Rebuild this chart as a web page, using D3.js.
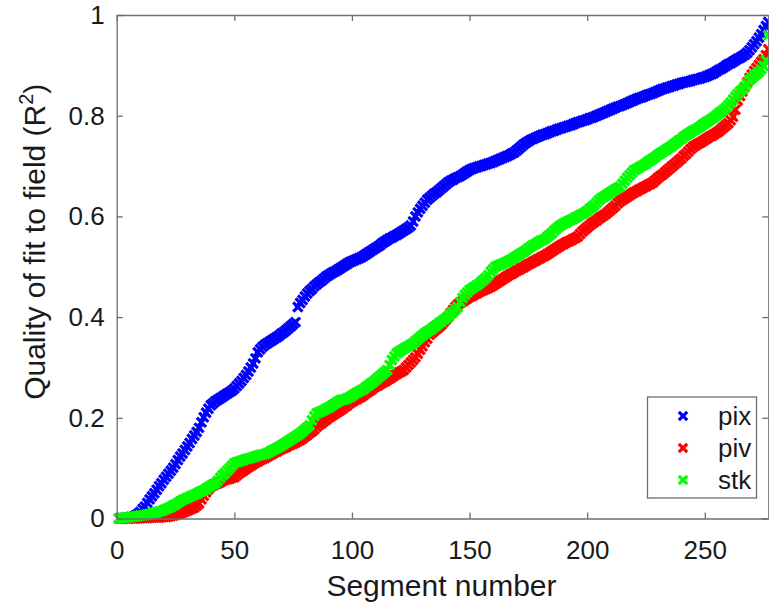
<!DOCTYPE html>
<html><head><meta charset="utf-8">
<script src="https://cdn.jsdelivr.net/npm/d3@7"></script>
<style>body{margin:0;background:#fff;} svg{display:block;} text{font-family:"Liberation Sans",Arial,sans-serif;fill:#1a1a1a;}</style>
</head><body><svg id="c" width="769" height="607"></svg>
<script>
const xTicks = [0, 50, 100, 150, 200, 250];
const yTicks = [0, 0.2, 0.4, 0.6, 0.8, 1];
const seriesNames = ["pix", "piv", "stk"];
const seriesColors = ["#0000ff", "#ff0000", "#00ff00"];

const pix = [
0.000,0.001,0.001,0.002,0.002,0.003,0.004,0.006,0.009,0.013,
0.019,0.024,0.031,0.038,0.044,0.050,0.057,0.064,0.070,0.077,
0.083,0.089,0.095,0.101,0.108,0.116,0.123,0.129,0.136,0.143,
0.150,0.158,0.165,0.172,0.180,0.191,0.201,0.210,0.218,0.225,
0.229,0.233,0.236,0.239,0.242,0.245,0.248,0.251,0.254,0.258,
0.263,0.268,0.273,0.279,0.285,0.292,0.300,0.308,0.318,0.330,
0.336,0.341,0.345,0.348,0.351,0.354,0.357,0.360,0.363,0.367,
0.370,0.374,0.378,0.382,0.386,0.390,0.420,0.428,0.434,0.441,
0.447,0.452,0.456,0.461,0.465,0.469,0.472,0.476,0.480,0.483,
0.486,0.489,0.491,0.494,0.497,0.500,0.503,0.506,0.509,0.511,
0.513,0.515,0.517,0.519,0.522,0.525,0.528,0.531,0.534,0.537,
0.540,0.543,0.547,0.550,0.553,0.556,0.558,0.561,0.563,0.566,
0.569,0.572,0.575,0.578,0.582,0.590,0.600,0.608,0.615,0.621,
0.627,0.633,0.637,0.641,0.645,0.648,0.652,0.656,0.660,0.664,
0.668,0.671,0.673,0.676,0.678,0.680,0.683,0.686,0.689,0.692,
0.694,0.696,0.697,0.699,0.700,0.702,0.703,0.705,0.706,0.708,
0.710,0.712,0.714,0.716,0.718,0.720,0.722,0.725,0.727,0.731,
0.735,0.739,0.743,0.746,0.749,0.752,0.754,0.756,0.758,0.760,
0.762,0.763,0.765,0.767,0.769,0.770,0.772,0.774,0.775,0.777,
0.778,0.780,0.781,0.783,0.785,0.787,0.788,0.790,0.791,0.793,
0.795,0.796,0.798,0.800,0.802,0.804,0.806,0.808,0.810,0.812,
0.814,0.816,0.818,0.819,0.821,0.823,0.825,0.827,0.829,0.831,
0.833,0.835,0.836,0.838,0.840,0.842,0.843,0.845,0.847,0.849,
0.851,0.853,0.854,0.856,0.857,0.859,0.860,0.862,0.863,0.865,
0.866,0.867,0.868,0.869,0.871,0.872,0.873,0.874,0.876,0.877,
0.879,0.881,0.883,0.885,0.888,0.891,0.893,0.896,0.899,0.902,
0.904,0.907,0.910,0.913,0.915,0.918,0.921,0.925,0.930,0.936,
0.942,0.948,0.955,0.962,0.970,0.978,0.986];

const piv = [
0.000,0.000,0.000,0.000,0.000,0.000,0.000,0.000,0.001,0.001,
0.001,0.001,0.001,0.002,0.002,0.002,0.002,0.002,0.003,0.003,
0.003,0.004,0.005,0.006,0.007,0.009,0.010,0.012,0.014,0.016,
0.018,0.020,0.022,0.026,0.030,0.038,0.045,0.052,0.058,0.063,
0.066,0.068,0.070,0.072,0.075,0.077,0.078,0.079,0.081,0.082,
0.086,0.090,0.093,0.096,0.099,0.102,0.105,0.108,0.111,0.113,
0.116,0.118,0.120,0.123,0.126,0.128,0.131,0.133,0.136,0.138,
0.140,0.142,0.145,0.147,0.149,0.151,0.154,0.156,0.159,0.163,
0.166,0.170,0.173,0.177,0.182,0.186,0.189,0.193,0.196,0.200,
0.203,0.206,0.209,0.212,0.215,0.218,0.222,0.225,0.229,0.232,
0.235,0.237,0.240,0.242,0.245,0.249,0.252,0.255,0.259,0.262,
0.264,0.267,0.270,0.272,0.275,0.278,0.281,0.284,0.287,0.290,
0.292,0.295,0.300,0.305,0.310,0.315,0.320,0.327,0.335,0.342,
0.350,0.357,0.365,0.369,0.373,0.377,0.381,0.385,0.390,0.395,
0.401,0.408,0.414,0.420,0.425,0.428,0.431,0.434,0.437,0.440,
0.442,0.445,0.447,0.450,0.452,0.454,0.456,0.458,0.460,0.463,
0.466,0.469,0.472,0.475,0.478,0.481,0.484,0.486,0.489,0.492,
0.494,0.497,0.499,0.502,0.505,0.507,0.510,0.512,0.515,0.517,
0.520,0.522,0.525,0.528,0.531,0.534,0.537,0.540,0.543,0.545,
0.548,0.550,0.552,0.555,0.557,0.560,0.565,0.570,0.574,0.578,
0.582,0.586,0.589,0.592,0.596,0.599,0.602,0.605,0.609,0.613,
0.617,0.621,0.626,0.630,0.633,0.636,0.639,0.642,0.645,0.648,
0.650,0.653,0.655,0.658,0.660,0.663,0.665,0.668,0.672,0.676,
0.680,0.683,0.687,0.691,0.695,0.699,0.703,0.707,0.711,0.715,
0.720,0.724,0.729,0.734,0.738,0.741,0.744,0.746,0.749,0.752,
0.755,0.758,0.760,0.763,0.766,0.769,0.773,0.777,0.781,0.785,
0.791,0.798,0.812,0.830,0.839,0.848,0.857,0.866,0.875,0.882,
0.889,0.895,0.901,0.907,0.912,0.920,0.932];

const stk = [
0.000,0.001,0.001,0.002,0.002,0.003,0.004,0.004,0.005,0.006,
0.006,0.007,0.008,0.009,0.010,0.011,0.012,0.014,0.015,0.017,
0.019,0.021,0.023,0.026,0.028,0.031,0.034,0.037,0.039,0.041,
0.043,0.045,0.047,0.049,0.052,0.054,0.056,0.059,0.062,0.065,
0.068,0.070,0.075,0.081,0.086,0.090,0.095,0.100,0.105,0.110,
0.112,0.113,0.115,0.116,0.118,0.119,0.120,0.122,0.123,0.125,
0.126,0.127,0.128,0.130,0.132,0.135,0.137,0.140,0.142,0.145,
0.148,0.151,0.154,0.157,0.160,0.163,0.166,0.169,0.173,0.177,
0.181,0.185,0.195,0.203,0.209,0.211,0.213,0.215,0.218,0.220,
0.223,0.226,0.229,0.232,0.235,0.236,0.237,0.239,0.241,0.244,
0.247,0.250,0.252,0.255,0.257,0.261,0.264,0.268,0.271,0.275,
0.279,0.283,0.287,0.291,0.295,0.305,0.315,0.322,0.328,0.331,
0.334,0.337,0.340,0.342,0.345,0.348,0.352,0.356,0.360,0.364,
0.368,0.371,0.374,0.377,0.381,0.384,0.388,0.391,0.395,0.398,
0.402,0.406,0.410,0.415,0.420,0.430,0.438,0.444,0.449,0.454,
0.457,0.460,0.463,0.466,0.470,0.474,0.478,0.483,0.490,0.495,
0.500,0.502,0.504,0.506,0.508,0.510,0.513,0.515,0.518,0.521,
0.524,0.527,0.530,0.533,0.537,0.540,0.543,0.545,0.548,0.551,
0.553,0.555,0.559,0.563,0.567,0.572,0.576,0.580,0.583,0.586,
0.588,0.591,0.593,0.595,0.598,0.600,0.603,0.605,0.608,0.611,
0.615,0.618,0.622,0.627,0.632,0.636,0.639,0.642,0.645,0.648,
0.651,0.654,0.657,0.659,0.665,0.671,0.677,0.682,0.687,0.692,
0.694,0.697,0.700,0.702,0.705,0.709,0.712,0.715,0.718,0.722,
0.725,0.728,0.731,0.734,0.737,0.740,0.744,0.747,0.751,0.754,
0.758,0.761,0.764,0.767,0.770,0.772,0.775,0.778,0.782,0.785,
0.788,0.791,0.794,0.797,0.801,0.805,0.808,0.812,0.816,0.821,
0.826,0.832,0.838,0.843,0.848,0.852,0.858,0.864,0.871,0.875,
0.879,0.883,0.887,0.892,0.899,0.910,0.960];

const seriesValues = [pix, piv, stk];

const svg = d3.select("#c");
const L = 116.7, R = 768.3, T = 15, B = 518.5;
const x = d3.scaleLinear().domain([0, 277]).range([L, R]);
const y = d3.scaleLinear().domain([0, 1]).range([B, T]);
const axisColor = "#6e6e6e";

const xMark = s => `M${-s},${-s}L${s},${s}M${-s},${s}L${s},${-s}`;

const plot = svg.append("g");
seriesValues.forEach((vals, k) => {
  plot.append("g").selectAll("path").data(vals).join("path")
    .attr("d", xMark(4.6))
    .attr("transform", (d, i) => `translate(${x(i + 1)},${y(d)})`)
    .attr("stroke", seriesColors[k]).attr("stroke-width", 3.2).attr("fill", "none");
});

const gx = svg.append("g").attr("transform", `translate(0,${B})`)
  .call(d3.axisBottom(x).tickValues(xTicks).tickSizeInner(-6).tickSizeOuter(0).tickPadding(22).tickFormat(d3.format("d")));
const gxTop = svg.append("g").attr("transform", `translate(0,${T})`)
  .call(d3.axisTop(x).tickValues(xTicks).tickSizeInner(-6).tickSizeOuter(0).tickFormat(""));
const gy = svg.append("g").attr("transform", `translate(${L},0)`)
  .call(d3.axisLeft(y).tickValues(yTicks).tickSizeInner(-6).tickSizeOuter(0).tickPadding(12).tickFormat(d => d === 0 || d === 1 ? String(d) : d.toFixed(1)));
const gyR = svg.append("g").attr("transform", `translate(${R},0)`)
  .call(d3.axisRight(y).tickValues(yTicks).tickSizeInner(-6).tickSizeOuter(0).tickFormat(""));
[gx, gxTop, gy, gyR].forEach(g => {
  g.select(".domain").attr("stroke", axisColor).attr("stroke-width", 1.3);
  g.selectAll(".tick line").attr("stroke", axisColor).attr("stroke-width", 1.3);
  g.selectAll("text").attr("font-size", 26).attr("fill", "#1a1a1a").attr("font-family", '"Liberation Sans",Arial,sans-serif');
});
gx.selectAll("text").attr("dy", "0.71em").attr("y", 22);

svg.append("text").attr("x", (L + R) / 2 - 1).attr("y", 596).attr("text-anchor", "middle")
  .attr("font-size", 30).text("Segment number");
const yl = svg.append("text").attr("transform", `translate(45,${(T + B) / 2 - 25}) rotate(-90)`)
  .attr("text-anchor", "middle").attr("font-size", 30);
yl.append("tspan").text("Quality of fit to field (R");
yl.append("tspan").attr("font-size", 20).attr("dy", -12).text("2");
yl.append("tspan").attr("dy", 12).text(")");

const lg = svg.append("g");
lg.append("rect").attr("x", 647.5).attr("y", 397).attr("width", 109).attr("height", 101)
  .attr("fill", "#fff").attr("stroke", axisColor).attr("stroke-width", 1.3);
seriesNames.forEach((n, k) => {
  const cy = 416 + k * 32;
  lg.append("path").attr("d", xMark(4.2)).attr("transform", `translate(683,${cy})`)
    .attr("stroke", seriesColors[k]).attr("stroke-width", 3.2).attr("fill", "none");
  lg.append("text").attr("x", 718).attr("y", cy + 9).attr("font-size", 26).text(n);
});
</script></body></html>
